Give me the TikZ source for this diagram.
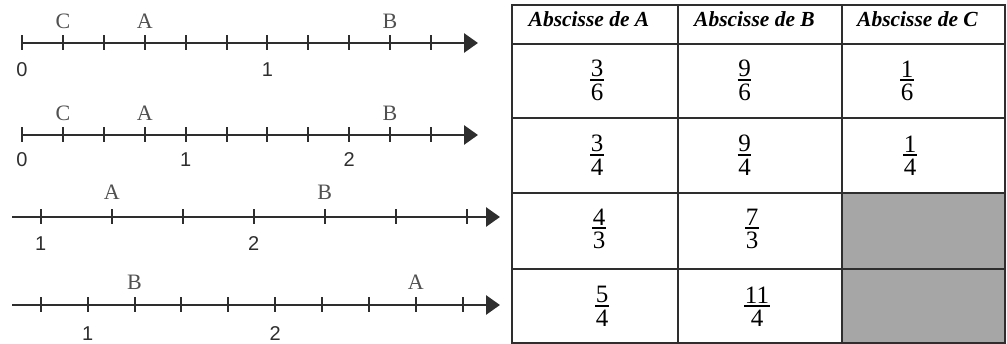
\documentclass[tikz,border=0pt]{standalone}
\usepackage{amsmath}
\usepackage{fontspec}
\setmainfont{Liberation Serif}
\newfontfamily\axisfont{Liberation Sans}
\usetikzlibrary{calc, arrows.meta}

\definecolor{axisgray}{HTML}{2E2E2E}
\definecolor{lettergray}{HTML}{505050}
\definecolor{cellgray}{HTML}{A6A6A6}

\tikzset{
	axis/.style={draw=axisgray, line width=2.9pt, -{Triangle[length=14pt, width=19pt]}},
	tickmark/.style={draw=axisgray, line width=2pt},
	pointname/.style={text=lettergray, inner sep=0pt, font=\fontsize{22}{22}\selectfont},
	graduation/.style={text=axisgray, inner sep=0pt, font=\axisfont\fontsize{20}{20}\selectfont},
	gridline/.style={draw=axisgray, line width=1.4pt},
	header/.style={anchor=base, inner sep=0pt, font=\bfseries\itshape\fontsize{21.5}{21.5}\selectfont},
	fracdigit/.style={inner xsep=0.5pt, inner ysep=0pt, font=\fontsize{25}{25}\selectfont},
	fracbar/.style={draw=black, line width=1.3pt}
}

\begin{document}
\begin{tikzpicture}[x=1pt, y=-1pt]
	\useasboundingbox (0,0) rectangle (1007,344);

	\begin{scope}
		\draw [axis] (22,43) -- (478,43);
		\foreach \i in {0,...,10}
			\draw [tickmark] (22+40.9*\i,35.5) -- (22+40.9*\i,50.5);
		\node [graduation] (zeroA) at (22,70) {0};
		\node [graduation] (oneA) at (267.4,70) {1};
		\node [pointname] (cA) at (62.9,21) {C};
		\node [pointname] (aA) at (144.7,21) {A};
		\node [pointname] (bA) at (390,21) {B};
	\end{scope}

	\begin{scope}
		\draw [axis] (22,135) -- (478,135);
		\foreach \i in {0,...,10}
			\draw [tickmark] (22+40.9*\i,127.5) -- (22+40.9*\i,142.5);
		\node [graduation] (zeroB) at (22,160) {0};
		\node [graduation] (oneB) at (185.6,160) {1};
		\node [graduation] (twoB) at (349.2,160) {2};
		\node [pointname] (cB) at (62.9,113) {C};
		\node [pointname] (aB) at (144.7,113) {A};
		\node [pointname] (bB) at (390,113) {B};
	\end{scope}

	\begin{scope}
		\draw [axis] (12,217) -- (500,217);
		\foreach \i in {0,...,6}
			\draw [tickmark] (40.7+71*\i,209.5) -- (40.7+71*\i,224.5);
		\node [graduation] (oneC) at (40.7,244) {1};
		\node [graduation] (twoC) at (253.7,244) {2};
		\node [pointname] (aC) at (111.7,192) {A};
		\node [pointname] (bC) at (324.7,192) {B};
	\end{scope}

	\begin{scope}
		\draw [axis] (12,305) -- (500,305);
		\foreach \i in {0,...,9}
			\draw [tickmark] (40.7+46.9*\i,297.5) -- (40.7+46.9*\i,312.5);
		\node [graduation] (oneD) at (87.6,334) {1};
		\node [graduation] (twoD) at (275.2,334) {2};
		\node [pointname] (bD) at (134.5,282) {B};
		\node [pointname] (aD) at (415.9,282) {A};
	\end{scope}

	\begin{scope}
		\fill [cellgray] (842,193) rectangle (1005,343);
		\draw [gridline] (512,5) rectangle (1005,343);
		\foreach \x in {678,842}
			\draw [gridline] (\x,5) -- (\x,343);
		\foreach \y in {44,118,193,269}
			\draw [gridline] (512,\y) -- (1005,\y);
	\end{scope}

	\begin{scope}
		\node [header] (headA) at (589,27) {Abscisse de A};
		\node [header] (headB) at (754.5,27) {Abscisse de B};
		\node [header] (headC) at (917.5,27) {Abscisse de C};
	\end{scope}

	\begin{scope}
		\foreach \x/\y/\n/\d [count=\k] in {597/80/3/6, 744.5/80/9/6, 907/80/1/6,
				597/155/3/4, 744.5/155/9/4, 910/155/1/4,
				599/228/4/3, 752/228/7/3,
				602/306/5/4, 757/306/11/4} {
			\node [fracdigit, anchor=south] (num\k) at (\x,\y-2.7) {\n};
			\node [fracdigit, anchor=north] (den\k) at (\x,\y+3.5) {\d};
			\draw [fracbar] ($(num\k.south west)+(0,2.7)$) -- ($(num\k.south east)+(0,2.7)$);
		}
	\end{scope}
\end{tikzpicture}
\end{document}
